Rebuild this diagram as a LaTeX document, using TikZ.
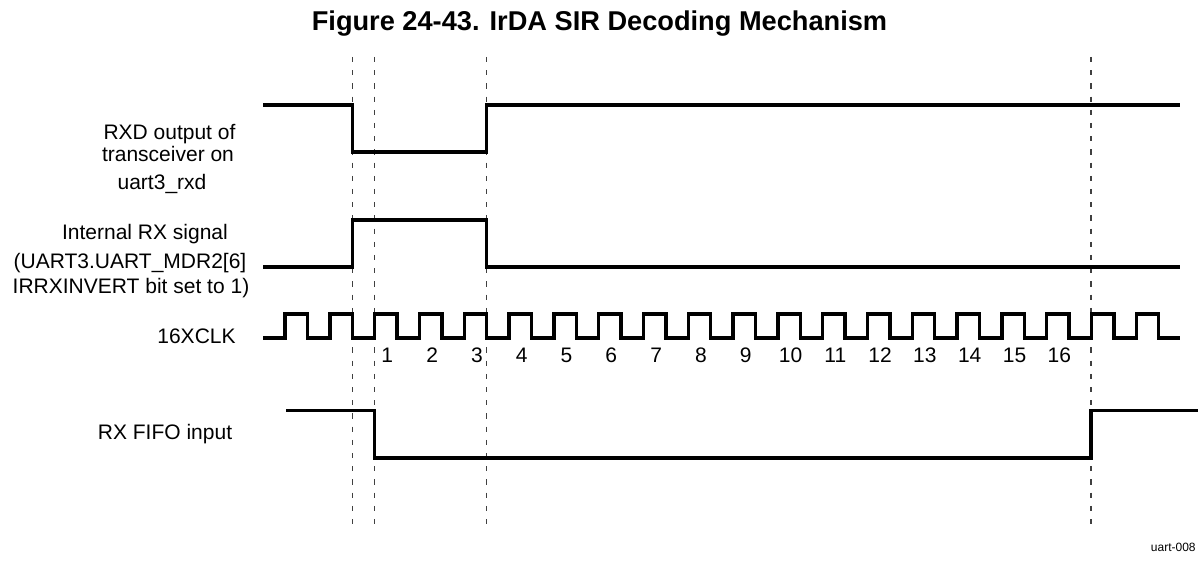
\documentclass[tikz,border=0pt]{standalone}
\usepackage{fontspec}
\setmainfont{Liberation Sans}
\begin{document}
\begin{tikzpicture}[x=0.5pt,y=-0.5pt,
  sig/.style={line width=1.7pt,line join=miter},
  guide/.style={line width=0.7pt,draw=black!75,dash pattern=on 2.6pt off 4pt},
  lbl/.style={font=\fontsize{10.5pt}{12pt}\selectfont,anchor=base,inner sep=0pt},
  num/.style={font=\fontsize{10.5pt}{12pt}\selectfont,anchor=base,inner sep=0pt},
  ttl/.style={font=\bfseries\fontsize{13.6pt}{16pt}\selectfont,anchor=base,inner sep=0pt},
  tag/.style={font=\fontsize{6pt}{7pt}\selectfont,anchor=base east,inner sep=0pt}]
\useasboundingbox (0,0) rectangle (1198,561);
% title
\node[ttl] (title) at (599.5,31) {Figure 24-43. IrDA SIR Decoding Mechanism};
% guide lines
\foreach \gx [count=\i] in {352.2,374.6,486.6,1091} {
  \coordinate (gt\i) at (\gx,57);
  \coordinate (gb\i) at (\gx,530);
  \draw[guide] (gt\i) -- (gb\i);
}
% RXD output
\draw[sig] (263,105) -- (352.2,105) -- (352.2,152) -- (486.6,152) -- (486.6,105) -- (1180,105);
% Internal RX
\draw[sig] (263,267) -- (352.2,267) -- (352.2,220) -- (486.6,220) -- (486.6,267) -- (1180,267);
% clock
\draw[sig] (263,338) foreach \k in {0,...,19} {
   -- ({285+44.8*\k},338) -- ({285+44.8*\k},314) -- ({307.4+44.8*\k},314) -- ({307.4+44.8*\k},338) } -- (1180,338);
% RX FIFO input
\draw[sig] (286,410.5) -- (374.6,410.5) -- (374.6,458) -- (1091,458) -- (1091,410.5) -- (1198,410.5);
% labels
\node[lbl] (l1a) at (169.5,139.3) {RXD output of};
\node[lbl] (l1b) at (168,161.7) {transceiver on};
\node[lbl] (l1c) at (162,189.3) {uart3\_rxd};
\node[lbl] (l2a) at (145,240) {Internal RX signal};
\node[lbl] (l2b) at (130,269) {(UART3.UART\_MDR2[6]};
\node[lbl] (l2c) at (131,293.3) {IRRXINVERT bit set to 1)};
\node[lbl] (l3) at (196.5,343) {16XCLK};
\node[lbl] (l4) at (165,439) {RX FIFO input};
\foreach \n in {1,...,16} {
  \node[num] (n\n) at ({296.2+44.8*(\n+1)+1.5},362.5) {\n};
}
\node[tag] (fig) at (1196,551) {uart-008};
\end{tikzpicture}
\end{document}
